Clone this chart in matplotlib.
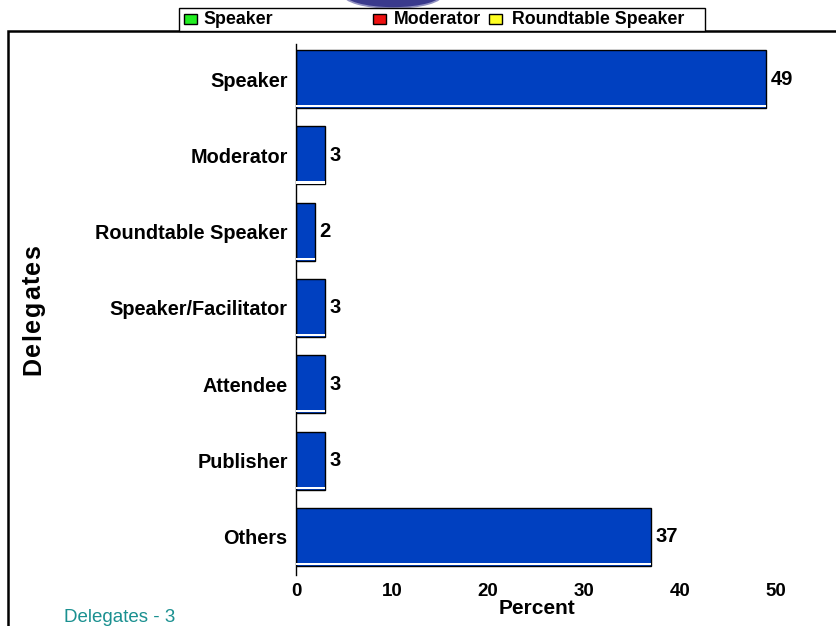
import matplotlib
matplotlib.use("Agg")
import matplotlib.pyplot as plt
from matplotlib.patches import Rectangle, Ellipse
from matplotlib import font_manager
from matplotlib.font_manager import FontProperties
from matplotlib.ft2font import FT2Font

categories = ["Speaker", "Moderator", "Roundtable Speaker", "Speaker/Facilitator",
              "Attendee", "Publisher", "Others"]
values = [49, 3, 2, 3, 3, 3, 37]
x_ticks = [0, 10, 20, 30, 40, 50]
legend_names = ["Speaker", "Moderator", "Roundtable Speaker"]
legend_colors = ["#22ee22", "#ee1111", "#ffff22"]
footer = "Delegates - 3"
x_title = "Percent"
y_title = "Delegates"

plt.rcParams['font.family'] = ['Liberation Sans', 'DejaVu Sans']

W, H = 837, 626
DPI = 100
fig = plt.figure(figsize=(W / DPI, H / DPI), dpi=DPI)


def fx(px):
    return px / W


def fy(py):
    return 1 - py / H


_bold_path = font_manager.findfont(FontProperties(family='Liberation Sans', weight='bold'))


def spaced_text(x_px, y_px, s, size, spacing_px, vertical=False, **kw):
    """Draw text with extra letter spacing, centred at (x_px, y_px)."""
    font = FT2Font(_bold_path)
    font.set_size(size, DPI)
    adv = []
    for c in s:
        g = font.load_char(ord(c))
        adv.append(g.linearHoriAdvance / 65536)
    total = sum(adv) + spacing_px * (len(s) - 1)
    pos = -total / 2
    for c, a in zip(s, adv):
        if vertical:
            fig.text(fx(x_px), fy(y_px - pos), c, rotation=90, rotation_mode='anchor',
                     ha='left', va='center', fontsize=size, fontweight='bold', **kw)
        else:
            fig.text(fx(x_px + pos), fy(y_px), c, ha='left', va='center',
                     fontsize=size, fontweight='bold', **kw)
        pos += a + spacing_px


ax = fig.add_axes([fx(296), fy(575), fx(776) - fx(296), fy(44) - fy(575)])
ypos = list(range(len(categories)))
bar_h = 0.76
ax.barh(ypos, values, height=bar_h, color="#0040c0", edgecolor="black", linewidth=1.0,
        zorder=2)
# thin light strip along the bottom of each bar (bevel look)
ax.barh([y + bar_h / 2 - 0.025 for y in ypos], values, height=0.03, color="white",
        edgecolor="none", zorder=3)
for y, v in zip(ypos, values):
    ax.text(v + 0.45, y, str(v), va="center", ha="left", fontsize=14.5, fontweight="bold")
ax.set_xlim(0, 50)
ax.set_ylim(6.5, -0.46)
ax.set_yticks(ypos)
ax.set_yticklabels(categories, fontsize=14.3, fontweight="bold")
ax.set_xticks(x_ticks)
ax.set_xticklabels([str(t) for t in x_ticks], fontsize=13.5, fontweight="bold")
ax.tick_params(length=0, pad=6)
ax.tick_params(axis="x", pad=5.5)
for s in ["top", "right", "bottom"]:
    ax.spines[s].set_visible(False)
ax.spines["left"].set_linewidth(1.0)

fig.text(fx(537), fy(609), x_title, ha="center", va="center", fontsize=15,
         fontweight="bold")
spaced_text(33, 310, y_title, 18, 1.5, vertical=True)

# outer border
fig.add_artist(Rectangle((fx(8), fy(640)), fx(845) - fx(8), fy(31) - fy(640),
                         transform=fig.transFigure, fill=False, edgecolor="black",
                         linewidth=1.8, clip_on=False))
# top ellipse
fig.add_artist(Ellipse((fx(393), fy(-6)), fx(100), 28 / H, transform=fig.transFigure,
                       facecolor="#3a3a8c", edgecolor="#9090c0", linewidth=1.2))
# legend box
fig.add_artist(Rectangle((fx(179), fy(31)), fx(705) - fx(179), fy(8) - fy(31),
                         transform=fig.transFigure, facecolor="white", edgecolor="black",
                         linewidth=1.0))
leg_box_x = [184, 373, 489]
leg_text_x = [203, 394, 512]
for bx, tx, name, col in zip(leg_box_x, leg_text_x, legend_names, legend_colors):
    fig.add_artist(Rectangle((fx(bx), fy(24)), fx(13), 10 / H, transform=fig.transFigure,
                             facecolor=col, edgecolor="black", linewidth=1.0))
    fig.text(fx(tx), fy(19.5), name, ha="left", va="center", fontsize=12.8,
             fontweight="bold")

fig.text(fx(64), fy(617), footer, ha="left", va="center", fontsize=13.5, color="#1a9090")

fig.savefig("out.png", dpi=DPI)
